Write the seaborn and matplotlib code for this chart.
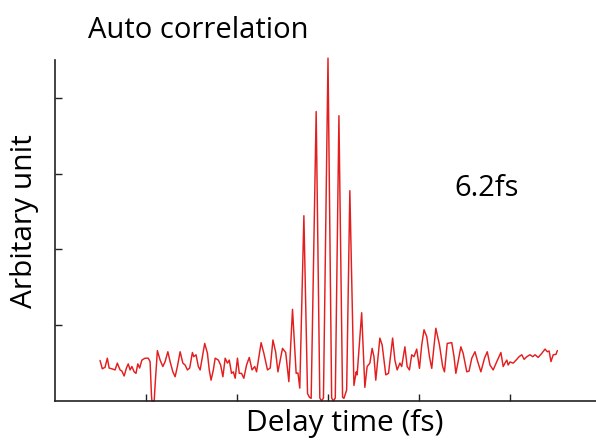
import matplotlib
matplotlib.use("Agg")
import matplotlib.pyplot as plt
import numpy as np
import pandas as pd
import seaborn as sns

# Interferometric autocorrelation trace (delay in fs, signal in arb. units)
delay_fs = [
    -50.1, -49.6, -49.0, -48.5, -48.1, -47.5, -46.8, -46.3, -45.7, -45.3,
    -44.8, -44.3, -43.9, -43.5, -43.1, -42.6, -42.2, -41.8, -41.4, -40.9,
    -40.2, -39.5, -39.1, -38.8, -38.7, -38.2, -38.0, -37.5, -36.9, -36.3,
    -35.8, -35.2, -34.7, -34.1, -33.6, -33.1, -32.5, -31.9, -31.4, -30.9,
    -30.4, -29.8, -29.5, -29.0, -28.5, -28.1, -27.6, -27.1, -26.5, -26.1,
    -25.7, -25.2, -24.8, -24.1, -23.6, -23.1, -22.6, -22.1, -21.7, -21.2,
    -20.8, -20.4, -19.9, -19.5, -19.0, -18.5, -17.9, -17.3, -16.7, -16.1,
    -15.7, -14.7, -14.1, -13.3, -12.7, -12.1, -11.5, -11.0, -10.0, -9.3,
    -8.6, -7.8, -7.0, -6.6, -6.2, -5.3, -4.5, -4.1, -3.7, -2.6,
    -1.8, -1.4, -1.0, 0.0, 0.8, 1.2, 1.6, 2.4, 3.2, 3.5,
    4.1, 4.8, 5.7, 6.2, 6.4, 7.4, 8.1, 8.6, 9.2, 9.7,
    10.1, 10.5, 11.4, 11.9, 12.7, 13.3, 14.2, 14.7, 15.2, 15.8,
    16.2, 16.9, 17.4, 17.9, 18.4, 18.9, 19.5, 20.1, 20.6, 21.1,
    21.7, 22.3, 22.8, 23.7, 24.5, 25.2, 25.6, 26.2, 27.2, 27.7,
    28.1, 28.6, 29.2, 29.7, 30.5, 31.0, 31.6, 32.3, 32.9, 33.6,
    34.4, 35.0, 35.6, 36.3, 37.1, 38.0, 38.5, 38.9, 39.3, 39.6,
    40.0, 40.7, 41.5, 42.0, 42.6, 43.1, 43.7, 44.4, 45.0, 45.5,
    46.2, 47.0, 47.7, 48.2, 48.6, 49.0, 49.5, 50.1, 50.4,
]
signal = [
    1.07, 0.85, 0.89, 1.13, 0.87, 0.85, 0.82, 1.00, 0.82, 0.79,
    0.66, 0.87, 0.98, 0.82, 0.91, 0.77, 0.73, 0.98, 0.87, 1.08,
    1.13, 1.13, 1.04, 0.16, 0.00, 0.00, 0.42, 1.33, 1.08, 0.91,
    1.04, 1.30, 1.04, 0.77, 0.64, 0.91, 1.30, 1.00, 0.95, 0.82,
    0.87, 1.28, 1.17, 1.22, 0.91, 0.82, 1.17, 1.52, 1.26, 0.82,
    0.55, 0.82, 1.13, 1.08, 0.95, 0.64, 1.13, 1.00, 1.08, 0.73,
    0.77, 0.60, 1.13, 0.73, 0.73, 0.60, 0.95, 1.15, 0.82, 0.91,
    0.77, 1.54, 1.26, 0.82, 0.87, 1.61, 1.29, 0.77, 1.39, 1.28,
    0.51, 2.42, 0.73, 0.74, 0.34, 4.89, 0.20, 0.10, 0.07, 7.64,
    0.08, 0.00, 0.08, 9.05, 0.08, 0.00, 0.08, 7.53, 0.10, 0.07,
    0.29, 5.55, 0.41, 0.77, 0.69, 2.33, 0.36, 0.91, 1.00, 1.39,
    1.17, 0.55, 1.66, 1.48, 0.69, 0.73, 1.66, 1.08, 0.82, 1.00,
    0.91, 1.43, 0.91, 0.82, 1.22, 1.17, 1.37, 0.86, 1.48, 1.88,
    1.70, 1.17, 0.86, 1.92, 1.48, 0.91, 0.77, 1.52, 1.54, 1.17,
    0.73, 1.04, 1.43, 1.26, 0.77, 0.79, 1.13, 1.30, 1.04, 0.77,
    1.13, 1.30, 0.95, 0.82, 1.04, 1.28, 0.91, 1.00, 1.08, 0.95,
    1.03, 1.00, 1.10, 1.17, 1.22, 1.10, 1.17, 1.22, 1.17, 1.22,
    1.15, 1.26, 1.37, 1.30, 1.32, 1.04, 1.22, 1.23, 1.33,
]
x_ticks = [-40, -20, 0, 20, 40]
y_ticks = [2, 4, 6, 8]

sns.set_style("white")
plt.rcParams["font.family"] = ["Open Sans", "DejaVu Sans"]

df = pd.DataFrame({"delay": delay_fs, "signal": signal})

fig = plt.figure(figsize=(5.96, 4.42), dpi=100)
ax = fig.add_axes([55 / 596, 41 / 442, 546 / 596, 341 / 442])

sns.lineplot(data=df, x="delay", y="signal", ax=ax, color="#e41e1e",
             linewidth=1.05, estimator=None, sort=False)
for ln in ax.lines:
    ln.set_clip_on(False)

ax.set_xlim(-60, 60)
ax.set_ylim(0, 9.0)
ax.set_xticks(x_ticks)
ax.set_yticks(y_ticks)
ax.set_xticklabels([])
ax.set_yticklabels([])
ax.tick_params(direction="in", length=5, width=1.0, color="#222222",
               bottom=True, left=True)
for side in ("top", "right"):
    ax.spines[side].set_visible(False)
for side in ("left", "bottom"):
    ax.spines[side].set_color("#222222")
    ax.spines[side].set_linewidth(1.2)

ax.set_xlabel("")
ax.set_ylabel("")
fig.text(345 / 596, 1 - 424 / 442, "Delay time (fs)", fontsize=21.5,
         ha="center", va="center", color="black")
fig.text(25 / 596, 1 - 221 / 442, "Arbitary unit", fontsize=21.5,
         rotation=90, ha="center", va="center", color="black")
fig.text(88 / 596, 1 - 31 / 442, "Auto correlation", fontsize=21,
         ha="left", va="center", color="black")
fig.text(486.5 / 596, 1 - 188 / 442, "6.2fs", fontsize=21,
         ha="center", va="center", color="black")

fig.savefig("out.png", dpi=100)
